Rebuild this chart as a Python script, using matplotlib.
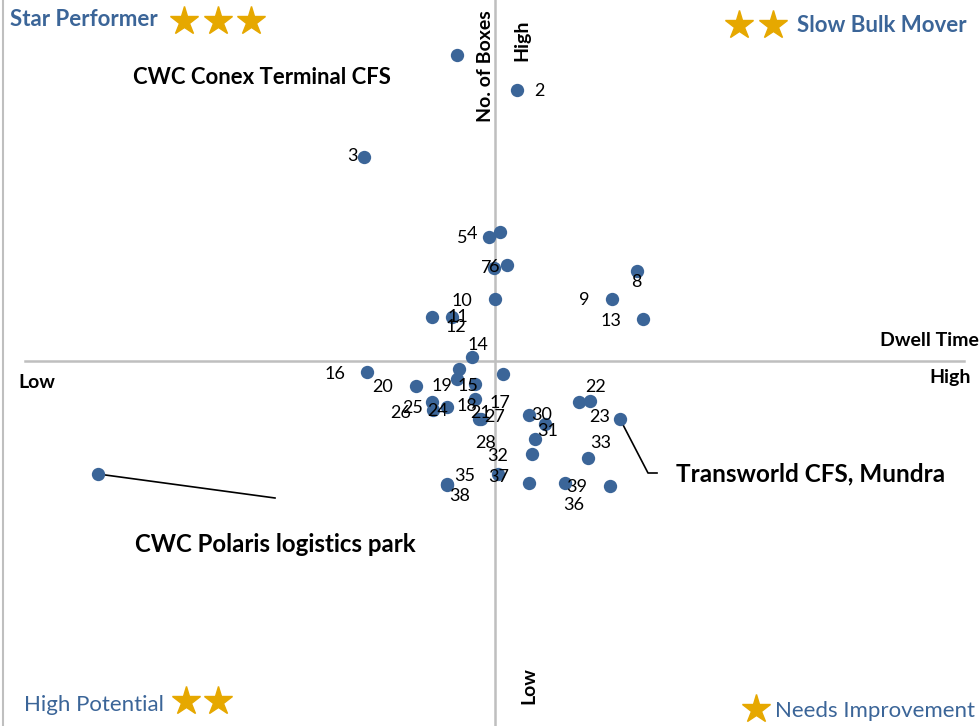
import matplotlib
matplotlib.use("Agg")
import matplotlib.pyplot as plt

plt.rcParams['font.family'] = ['Lato', 'DejaVu Sans']

# CFS positions: dwell time (x) vs no. of boxes (y), relative to the cross-over point
cfs_labels = ['', '2', '3', '4', '5', '6', '7', '8', '9', '10',
              '11', '12', '13', '14', '15', '16', '17', '18', '19', '20',
              '21', '22', '23', '24', '25', '26', '27', '28', '', '30',
              '31', '32', '33', '', '35', '36', '37', '38', '39', '', '']
dwell_time = [-3.8, 2.2, -13.1, 0.5, -0.6, 1.2, -0.1, 14.2, 11.7, 0.0,
              -4.3, -6.3, 14.8, -2.3, -2.0, -12.8, 0.8, -2.0, -3.8, -7.9,
              -1.6, 9.5, 12.5, -4.8, -6.3, -6.2, -1.4, 4.0, -3.6, 3.4,
              5.0, 3.7, 9.3, 8.4, -4.8, 11.5, 0.3, -4.8, 7.0, 3.4, -39.7]
no_of_boxes = [30.6, 27.1, 20.4, 12.9, 12.4, 9.6, 9.3, 9.0, 6.2, 6.2,
               4.4, 4.4, 4.2, 0.4, -2.3, -1.1, -1.3, -3.8, -1.8, -2.5,
               -5.8, -4.0, -5.8, -4.6, -4.1, -4.9, -5.8, -7.8, -0.8, -5.4,
               -6.3, -9.3, -9.7, -4.1, -12.3, -12.5, -11.3, -12.4, -12.2, -12.2, -11.3]

# where each number label sits next to its dot (pixels)
label_offsets = [(0, 0), (22, -1), (-12, 1), (-28, -2), (-27, -1), (-13, -2), (-8, 0), (-1, -11), (-28, -1), (-33, -2),
                 (6, 0), (24, -10), (-32, -2), (6, 12), (-7, -2), (-32, -2), (-3, -29), (-8, -7), (-15, -7), (-33, -1),
                 (2, 6), (6, 14), (-20, 2), (-9, -4), (-19, -6), (-32, -3), (14, 2), (-49, -4), (0, 0), (13, 0),
                 (3, -7), (-34, -2), (13, 15), (0, 0), (18, 8), (-36, -19), (1, -3), (13, -11), (12, -4), (0, 0), (0, 0)]

blue = '#3B6598'
gold = '#E6A800'
grey = '#BFBFBF'

fig = plt.figure(figsize=(9.8, 7.26), dpi=100)
ax = fig.add_axes([0, 0, 1, 1])
ax.set_xlim(-49.5, 48.5)
ax.set_ylim(-36.5, 36.1)
ax.axis('off')

# quadrant cross and left border
ax.axhline(0, xmin=25 / 980, xmax=964 / 980, color=grey, lw=1.8, zorder=1)
ax.axvline(0, color=grey, lw=1.8, zorder=1)
ax.axvline(-49.2, color=grey, lw=1.5, zorder=1)

ax.scatter(dwell_time, no_of_boxes, s=92, color=blue, zorder=3, linewidths=0)

for lab, x, y, off in zip(cfs_labels, dwell_time, no_of_boxes, label_offsets):
    if lab:
        ax.annotate(lab, (x, y), xytext=off, textcoords='offset pixels',
                    ha='center', va='center', fontsize=13, color='black', zorder=4)


def fxy(px, py):
    return px / 980, 1 - py / 726


# named call-outs
polaris = len(dwell_time) - 1
transworld = cfs_labels.index('23')
fig.text(*fxy(262, 77), 'CWC Conex Terminal CFS', ha='center', va='center',
         fontsize=15.9, fontweight='bold')
fig.text(*fxy(275, 544), 'CWC Polaris logistics park', ha='center', va='center',
         fontsize=17.3, fontweight='bold')
ax.plot([dwell_time[polaris], (275 - 495) / 10], [no_of_boxes[polaris], (361 - 498) / 10],
        color='black', lw=1.2, zorder=2)
ax.plot([dwell_time[transworld], (648 - 495) / 10, (657 - 495) / 10],
        [no_of_boxes[transworld], (361 - 473) / 10, (361 - 473) / 10],
        color='black', lw=1.2, zorder=2)
fig.text(*fxy(811, 474), 'Transworld CFS, Mundra', ha='center', va='center',
         fontsize=17.5, fontweight='bold')

# axis captions
fig.text(*fxy(979, 341), 'Dwell Time', ha='right', va='center', fontsize=14, fontweight='bold')
fig.text(*fxy(950, 377), 'High', ha='center', va='center', fontsize=14, fontweight='bold')
fig.text(*fxy(37, 383), 'Low', ha='center', va='center', fontsize=14, fontweight='bold')
fig.text(*fxy(485, 66), 'No. of Boxes', ha='center', va='center', rotation=90,
         fontsize=14, fontweight='bold')
fig.text(*fxy(522, 40), 'High', ha='center', va='center', rotation=90, fontsize=14, fontweight='bold')
fig.text(*fxy(529, 686), 'Low', ha='center', va='center', rotation=90, fontsize=14, fontweight='bold')

# quadrant names with star ratings
fig.text(*fxy(10, 20), 'Star Performer', ha='left', va='center', fontsize=16,
         fontweight='bold', color=blue)
fig.text(*fxy(967, 26), 'Slow Bulk Mover', ha='right', va='center', fontsize=16,
         fontweight='bold', color=blue)
fig.text(*fxy(24, 705), 'High Potential', ha='left', va='center', fontsize=16, color=blue)
fig.text(*fxy(975, 711), 'Needs Improvement', ha='right', va='center', fontsize=16, color=blue)

star_spots = [(184, 21), (218, 21), (251, 21), (739, 25), (773, 25), (186, 701), (218, 701), (756, 709)]
for sx, sy in star_spots:
    fig.lines.append(plt.Line2D([sx / 980], [1 - sy / 726], marker='*', markersize=21,
                                color=gold, transform=fig.transFigure))

fig.savefig('out.png', dpi=100)
